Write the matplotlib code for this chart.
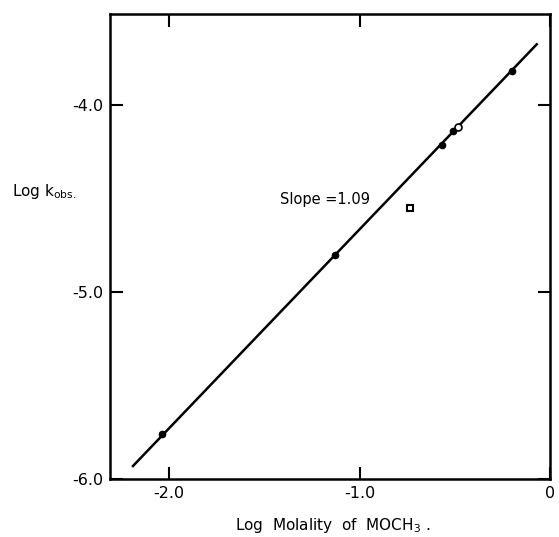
import matplotlib
matplotlib.use("Agg")
from matplotlib import pyplot as plt
import numpy as np

# data
log_m_filled = [-2.035, -1.129, -0.565, -0.511, -0.201]
log_k_filled = [-5.760, -4.799, -4.213, -4.138, -3.816]
log_m_open = [-0.481]
log_k_open = [-4.116]
log_m_square = [-0.735]
log_k_square = [-4.549]

# drawn straight line (as it appears on the plot)
line_slope = 1.065
line_intercept = -3.598
fit_range = [-2.19, -0.07]

x_ticks = [-2.0, -1.0, 0.0]
x_tick_labels = ["-2.0", "-1.0", "0"]
y_ticks = [-6.0, -5.0, -4.0]
y_tick_labels = ["-6.0", "-5.0", "-4.0"]

plt.rcParams['font.family'] = 'DejaVu Sans'

fig = plt.figure(figsize=(5.59, 5.37), dpi=100)
ax = fig.add_axes([0.197, 0.108, 0.787, 0.866])

xf = np.array(fit_range)
ax.plot(xf, line_slope * xf + line_intercept, color='black', lw=1.8, zorder=2)

ax.plot(log_m_filled, log_k_filled, 'o', color='black', ms=4.5, zorder=3)
ax.plot(log_m_open, log_k_open, 'o', mfc='white', mec='black', mew=1.2, ms=5, zorder=3)
ax.plot(log_m_square, log_k_square, 's', mfc='white', mec='black', mew=1.5, ms=4, zorder=3)

ax.set_xlim(-2.31, 0.0)
ax.set_ylim(-6.0, -3.51)

ax.set_xticks(x_ticks)
ax.set_xticklabels(x_tick_labels)
ax.set_yticks(y_ticks)
ax.set_yticklabels(y_tick_labels)
ax.tick_params(direction='in', length=9, width=1.5, top=True, right=True,
               labelsize=11.5, pad=5)

for s in ax.spines.values():
    s.set_linewidth(1.8)

ax.text(-1.42, -4.53, "Slope =1.09", fontsize=10.5)

fig.text(0.022, 0.644, "Log k$_{\\mathregular{obs.}}$", fontsize=11, va='center')
fig.text(0.595, 0.022, "Log  Molality  of  MOCH$_\\mathregular{3}$ .", fontsize=11,
         ha='center', va='center')

fig.savefig("out.png", dpi=100)
